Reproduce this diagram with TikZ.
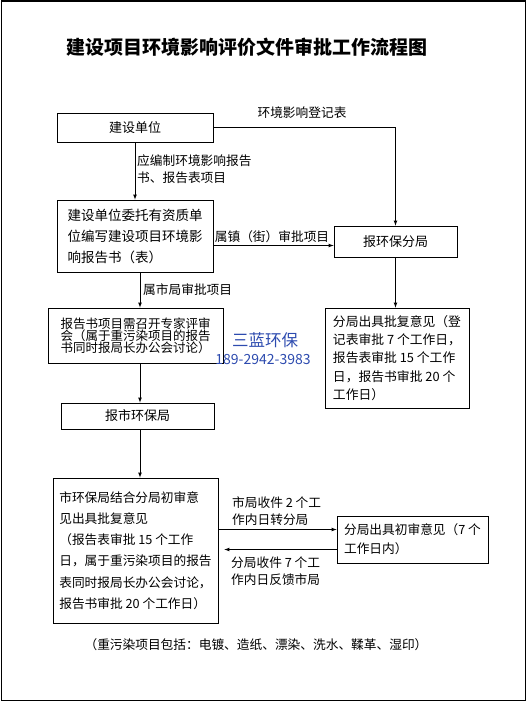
\documentclass[tikz,border=0pt]{standalone}
\usepackage{fontspec}
\setmainfont{Noto Sans CJK SC}
\usetikzlibrary{calc}
\definecolor{wmblue}{RGB}{45,75,175}

\begin{document}
\begin{tikzpicture}[x=1pt,y=-1pt,
    box/.style={draw,line width=0.8pt,inner sep=0pt,align=left},
    arr/.style={-latex,line width=0.7pt},
    lbl/.style={font=\fontsize{12.7}{17}\selectfont,align=left,inner sep=0pt}]
                \useasboundingbox (0,0) rectangle (528,702);
                \draw[line width=1.2pt] (1.5,1) rectangle (525.5,700.5);
                \node[font=\bfseries\fontsize{19}{19}\selectfont] (title) at (247,47) {建设项目环境影响评价文件审批工作流程图};
                \node[box,minimum width=156,minimum height=29,font=\fontsize{13}{13}\selectfont] (jsdw) at (135,127.5) {建设单位};
                \node[box,minimum width=156,minimum height=72,font=\fontsize{13.5}{21}\selectfont] (wt) at (135,236) {建设单位委托有资质单\\位编写建设项目环境影\\响报告书（表）};
                \node[box,minimum width=123,minimum height=31,font=\fontsize{13}{13}\selectfont] (fj) at (395.5,241.5) {报环保分局};
                \node[box,minimum width=144,minimum height=100,font=\fontsize{12.8}{18.2}\selectfont] (pf) at (397,358) {分局出具批复意见（登\\记表审批 7 个工作日，\\报告表审批 15 个工作\\日，报告书审批 20 个\\工作日）};
                \node[box,minimum width=175,minimum height=55,font=\fontsize{12.5}{12}\selectfont] (sj) at (135.5,335.5) {报告书项目需召开专家评审\\会（属于重污染项目的报告\\书同时报局长办公会讨论）};
                \node[box,minimum width=153,minimum height=26,font=\fontsize{13}{13}\selectfont] (shi) at (137.5,416) {报市环保局};
                \node[box,minimum width=165,minimum height=145,font=\fontsize{12.7}{21.2}\selectfont] (sp) at (135.5,550.5) {市环保局结合分局初审意\\见出具批复意见\\（报告表审批 15 个工作\\日，属于重污染项目的报告\\表同时报局长办公会讨论，\\报告书审批 20 个工作日）};
                \node[box,minimum width=151,minimum height=47,font=\fontsize{12.7}{19}\selectfont] (cs) at (412.5,539.5) {分局出具初审意见（7 个\\工作日内）};
                \node[font=\fontsize{16.5}{16.5}\selectfont,text=wmblue,inner sep=0pt] (wm) at (265,340) {三蓝环保};
                \node[font=\fontsize{14}{14}\selectfont,text=wmblue,inner sep=0pt] (tel) at (263,360) {189-2942-3983};
                \draw[arr] (jsdw.east) -| (fj.north);
                \node[lbl] (djb) at (302,113) {环境影响登记表};
                \draw[arr] (jsdw.south) -- (wt.north);
                \node[lbl,anchor=west] (bz) at (137,169.5) {应编制环境影响报告\\书、报告表项目};
                \coordinate (p1) at ([yshift=-4pt]fj.west);
                \draw[arr] (wt.east |- p1) -- (p1);
                \node[lbl] (zj) at (272,237) {属镇（街）审批项目};
                \draw[arr] (fj.south) -- (fj.south |- pf.north);
                \draw[arr] ([xshift=5pt]wt.south) -- ([xshift=4.5pt]sj.north);
                \node[lbl,anchor=west] (sjxm) at (143,290) {属市局审批项目};
                \draw[arr] ([xshift=4.5pt]sj.south) -- ([xshift=2.5pt]shi.north);
                \draw[arr] ([xshift=2.5pt]shi.south) -- ([xshift=4.5pt]sp.north);
                \coordinate (p2) at ([yshift=10pt]cs.west);
                \draw[arr] (sp.east |- p2) -- (p2);
                \node[lbl,anchor=west] (zf) at (232,511) {市局收件 2 个工\\作内日转分局};
                \coordinate (p3) at ([yshift=-10pt]cs.west);
                \draw[arr,shorten >=6pt] (p3) -- (sp.east |- p3);
                \node[lbl,anchor=west] (fk) at (231,571) {分局收件 7 个工\\作内日反馈市局};
                \node[lbl] (note) at (256,645) {（重污染项目包括：电镀、造纸、漂染、洗水、鞣革、湿印）};
            \end{tikzpicture}
\end{document}
